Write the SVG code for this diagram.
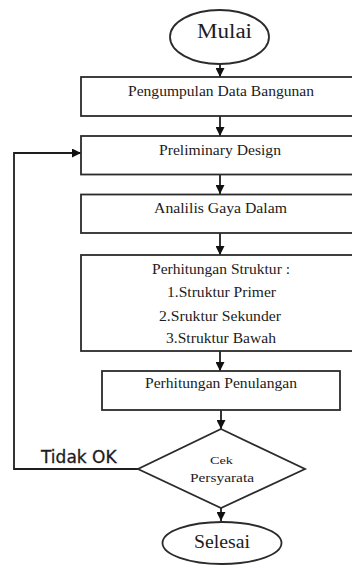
<svg xmlns="http://www.w3.org/2000/svg" width="352" height="565" viewBox="0 0 352 565">
<style>
.shape{fill:#fff;stroke:#2b2b2b;stroke-width:1.8}
.t{font-family:"Liberation Serif","Times New Roman",serif;fill:#1c1c22}
.line{fill:none;stroke:#1e1e1e;stroke-width:1.8}
</style>
<defs>
<marker id="ah" viewBox="0 0 10 10" refX="10" refY="5" markerWidth="9" markerHeight="9" markerUnits="userSpaceOnUse" orient="auto">
<path d="M0,0 L10,5 L0,10 Z" fill="#111"/>
</marker>
</defs>
<rect width="352" height="565" fill="#fff"/>
<g id="connectors">
<line class="line" x1="220" y1="64" x2="220" y2="77" marker-end="url(#ah)"/>
<line class="line" x1="220" y1="116" x2="220" y2="136" marker-end="url(#ah)"/>
<line class="line" x1="220" y1="174" x2="220" y2="194" marker-end="url(#ah)"/>
<line class="line" x1="220" y1="233" x2="220" y2="255" marker-end="url(#ah)"/>
<line class="line" x1="220" y1="351" x2="220" y2="371" marker-end="url(#ah)"/>
<line class="line" x1="221" y1="410" x2="221" y2="429" marker-end="url(#ah)"/>
<line class="line" x1="221" y1="505" x2="221" y2="521" marker-end="url(#ah)"/>
<polyline class="line" points="138,469 14,469 14,153 81,153" marker-end="url(#ah)"/>
<text x="41" y="462.7" font-family="'DejaVu Sans',sans-serif" font-size="17" fill="#1c1c22" stroke="#1c1c22" stroke-width="0.3">Tidak OK</text>
</g>
<g id="mulai">
<ellipse class="shape" cx="219.5" cy="37" rx="49.5" ry="27"/>
<text class="t" x="197" y="38" font-size="20" textLength="55" lengthAdjust="spacingAndGlyphs">Mulai</text>
</g>
<g id="pengumpulan">
<rect class="shape" x="81" y="77" width="290" height="39"/>
<text class="t" x="128" y="96" font-size="15" textLength="186" lengthAdjust="spacingAndGlyphs">Pengumpulan Data Bangunan</text>
</g>
<g id="preliminary">
<rect class="shape" x="81" y="136" width="290" height="38.5"/>
<text class="t" x="159" y="155" font-size="15" textLength="122" lengthAdjust="spacingAndGlyphs">Preliminary Design</text>
</g>
<g id="analisis">
<rect class="shape" x="81" y="194.5" width="290" height="38.5"/>
<text class="t" x="154" y="212.7" font-size="15" textLength="133" lengthAdjust="spacingAndGlyphs">Analilis Gaya Dalam</text>
</g>
<g id="struktur">
<rect class="shape" x="81" y="255" width="290" height="96"/>
<text class="t" x="152" y="274" font-size="15" textLength="138" lengthAdjust="spacingAndGlyphs">Perhitungan Struktur :</text>
<text class="t" x="167" y="296.7" font-size="15" textLength="109" lengthAdjust="spacingAndGlyphs">1.Struktur Primer</text>
<text class="t" x="159" y="320.7" font-size="15" textLength="122" lengthAdjust="spacingAndGlyphs">2.Sruktur Sekunder</text>
<text class="t" x="166" y="343" font-size="15" textLength="110" lengthAdjust="spacingAndGlyphs">3.Struktur Bawah</text>
</g>
<g id="penulangan">
<rect class="shape" x="102" y="371" width="238" height="39"/>
<text class="t" x="145" y="388.3" font-size="15" textLength="152" lengthAdjust="spacingAndGlyphs">Perhitungan Penulangan</text>
</g>
<g id="cek">
<polygon class="shape" points="221,429 305,469 221,508 138,469"/>
<text class="t" x="210" y="464" font-size="11" textLength="23" lengthAdjust="spacingAndGlyphs">Cek</text>
<text class="t" x="190" y="481.7" font-size="12" textLength="64" lengthAdjust="spacingAndGlyphs">Persyarata</text>
</g>
<g id="selesai">
<ellipse class="shape" cx="222" cy="543" rx="59.5" ry="21"/>
<text class="t" x="194" y="548" font-size="18" textLength="56" lengthAdjust="spacingAndGlyphs">Selesai</text>
</g>
</svg>
